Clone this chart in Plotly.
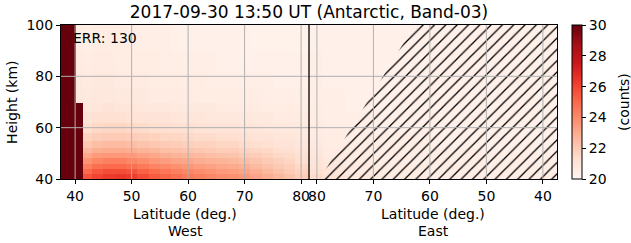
import plotly.graph_objects as go

# ---------------- data ----------------
title_text = "2017-09-30 13:50 UT (Antarctic, Band-03)"
err_text = "ERR: 130"
pole_lat = 81.4          # latitude where West and East halves meet
lat_min = 37.5

height_edges = [40, 42, 44, 46, 48, 50, 52, 55, 58, 62, 66, 69.5, 75, 82, 90, 100]

west_lat_edges = [37.5, 40.2, 41.4, 43, 45, 47, 49, 51, 53, 55, 57, 59, 61, 63,
                  65, 67, 69, 71, 73, 75, 77, 79, 81.4]
east_lat_edges = [81.4, 79, 75, 70, 60, 50, 37.5]

# counts, rows bottom (40 km) -> top (100 km), west columns 37.5 -> 81.4
west_counts = [
    [35, 35, 25.6, 26.0, 26.3, 26.4, 26.2, 25.8, 25.4, 25.1, 24.8, 24.5, 24.3, 24.1, 23.9, 23.8, 23.6, 23.2, 22.9, 22.6, 22.3, 21.9],
    [35, 35, 25.0, 25.5, 25.8, 25.8, 25.6, 25.2, 24.9, 24.6, 24.3, 24.1, 23.9, 23.7, 23.5, 23.4, 23.2, 22.9, 22.6, 22.3, 22.0, 21.7],
    [35, 35, 24.3, 24.8, 25.0, 25.0, 24.8, 24.5, 24.2, 24.0, 23.8, 23.6, 23.4, 23.3, 23.1, 23.0, 22.8, 22.5, 22.3, 22.0, 21.8, 21.5],
    [35, 35, 23.7, 24.1, 24.3, 24.3, 24.1, 23.9, 23.6, 23.4, 23.2, 23.1, 22.9, 22.8, 22.7, 22.6, 22.4, 22.2, 22.0, 21.8, 21.6, 21.3],
    [35, 35, 23.1, 23.5, 23.6, 23.6, 23.5, 23.3, 23.1, 22.9, 22.7, 22.6, 22.5, 22.4, 22.3, 22.2, 22.0, 21.9, 21.7, 21.5, 21.4, 21.2],
    [35, 35, 22.6, 22.9, 23.0, 23.0, 22.9, 22.7, 22.6, 22.4, 22.3, 22.2, 22.1, 22.0, 21.9, 21.9, 21.7, 21.6, 21.5, 21.3, 21.2, 21.1],
    [35, 35, 22.1, 22.4, 22.5, 22.5, 22.4, 22.2, 22.1, 22.0, 21.9, 21.8, 21.7, 21.7, 21.6, 21.6, 21.4, 21.3, 21.2, 21.1, 21.0, 20.9],
    [35, 35, 21.7, 21.9, 22.0, 22.0, 21.9, 21.8, 21.7, 21.6, 21.6, 21.5, 21.4, 21.4, 21.3, 21.3, 21.2, 21.1, 21.0, 20.9, 20.9, 20.8],
    [35, 35, 21.3, 21.5, 21.6, 21.6, 21.5, 21.4, 21.3, 21.3, 21.2, 21.2, 21.1, 21.1, 21.0, 21.0, 20.9, 20.9, 20.8, 20.8, 20.7, 20.7],
    [35, 35, 21.0, 21.2, 21.2, 21.2, 21.1, 21.1, 21.0, 21.0, 20.9, 20.9, 20.9, 20.8, 20.8, 20.8, 20.7, 20.7, 20.7, 20.6, 20.6, 20.6],
    [35, 35, 20.8, 20.9, 21.0, 20.9, 20.9, 20.8, 20.8, 20.8, 20.7, 20.7, 20.7, 20.7, 20.6, 20.6, 20.6, 20.6, 20.5, 20.5, 20.5, 20.5],
    [35, 20.8, 20.7, 20.8, 20.8, 20.7, 20.7, 20.7, 20.6, 20.6, 20.6, 20.6, 20.5, 20.5, 20.5, 20.5, 20.5, 20.5, 20.4, 20.4, 20.4, 20.4],
    [35, 20.7, 20.6, 20.7, 20.7, 20.6, 20.6, 20.6, 20.5, 20.5, 20.5, 20.5, 20.5, 20.4, 20.4, 20.4, 20.4, 20.4, 20.4, 20.3, 20.3, 20.3],
    [35, 20.6, 20.5, 20.6, 20.6, 20.5, 20.5, 20.5, 20.5, 20.4, 20.4, 20.4, 20.4, 20.4, 20.3, 20.3, 20.3, 20.3, 20.3, 20.3, 20.3, 20.3],
    [35, 20.5, 20.4, 20.5, 20.5, 20.5, 20.4, 20.4, 20.4, 20.4, 20.3, 20.3, 20.3, 20.3, 20.3, 20.3, 20.3, 20.2, 20.2, 20.2, 20.2, 20.2],
]

# east columns 81.4 -> 37.5
east_counts = [
    [21.4, 21.0, 20.7, 20.5, 20.4, 20.4],
    [21.2, 20.9, 20.6, 20.5, 20.4, 20.4],
    [21.1, 20.8, 20.6, 20.5, 20.4, 20.4],
    [21.0, 20.7, 20.5, 20.4, 20.4, 20.4],
    [20.9, 20.6, 20.5, 20.4, 20.4, 20.4],
    [20.8, 20.6, 20.5, 20.4, 20.4, 20.3],
    [20.7, 20.5, 20.4, 20.4, 20.3, 20.3],
    [20.6, 20.5, 20.4, 20.4, 20.3, 20.3],
    [20.6, 20.4, 20.4, 20.3, 20.3, 20.3],
    [20.5, 20.4, 20.4, 20.3, 20.3, 20.3],
    [20.5, 20.4, 20.3, 20.3, 20.3, 20.3],
    [20.4, 20.4, 20.3, 20.3, 20.3, 20.3],
    [20.4, 20.3, 20.3, 20.3, 20.3, 20.3],
    [20.4, 20.3, 20.3, 20.3, 20.3, 20.3],
    [20.3, 20.3, 20.3, 20.3, 20.3, 20.3],
]

# no-data boundary on the East side (east latitude at bottom and top heights)
nodata_lat_bottom = 79.5
nodata_lat_top = 62.7

west_ticks = [40, 50, 60, 70, 80]
east_ticks = [80, 70, 60, 50, 40]
height_ticks = [40, 60, 80, 100]

zmin, zmax = 20, 30
cbar_ticks = [20, 22, 24, 26, 28, 30]

reds = [(255, 245, 240), (254, 224, 210), (252, 187, 161), (252, 146, 114),
        (251, 106, 74), (239, 59, 44), (203, 24, 29), (165, 15, 21), (103, 0, 13)]

# ---------------- build ----------------
def east_x(lat):
    return 2 * pole_lat - lat

x_edges = west_lat_edges + [east_x(e) for e in east_lat_edges[1:]]
z = [w + e for w, e in zip(west_counts, east_counts)]
colorscale = [[i / (len(reds) - 1), "rgb(%d,%d,%d)" % c] for i, c in enumerate(reds)]

x_lo, x_hi = lat_min, east_x(lat_min)
y_lo, y_hi = height_edges[0], height_edges[-1]
x_tickvals = west_ticks + [east_x(t) for t in east_ticks]

FONT = "DejaVu Sans"
fig = go.Figure()
fig.add_trace(go.Heatmap(
    x=x_edges, y=height_edges, z=z, zmin=zmin, zmax=zmax,
    colorscale=colorscale, zsmooth=False, hoverinfo="skip",
    colorbar=dict(
        thickness=10, thicknessmode="pixels", len=1, lenmode="fraction",
        x=1.03, xanchor="left", xpad=0, y=0.5, yanchor="middle", ypad=0,
        outlinecolor="black", outlinewidth=1,
        tickvals=cbar_ticks, ticks="outside", ticklen=4, tickcolor="black",
        tickfont=dict(family=FONT, size=14, color="black"),
    ),
))

# hatched no-data region
fig.add_trace(go.Scatter(
    x=[east_x(nodata_lat_bottom), east_x(nodata_lat_top), x_hi, x_hi, east_x(nodata_lat_bottom)],
    y=[y_lo, y_hi, y_hi, y_lo, y_lo],
    mode="lines", line=dict(width=0), fill="toself",
    fillcolor="rgba(0,0,0,0)",
    fillpattern=dict(shape="/", fgcolor="black", fgopacity=1, bgcolor="rgba(0,0,0,0)",
                     size=8, solidity=0.16, fillmode="replace"),
    hoverinfo="skip", showlegend=False,
))

tick_font = dict(family=FONT, size=14, color="black")
fig.update_layout(
    width=631, height=243,
    margin=dict(l=61, r=74, t=25, b=64),
    paper_bgcolor="white", plot_bgcolor="white",
    showlegend=False,
    title=dict(text=title_text, x=0.5, xref="paper", xanchor="center",
               y=0.95, yref="container", yanchor="middle",
               font=dict(family=FONT, size=17, color="black")),
    xaxis=dict(range=[x_lo, x_hi], tickvals=x_tickvals,
               ticktext=[str(t) for t in west_ticks] + [str(t) for t in east_ticks],
               tickangle=0,
               tickfont=tick_font, ticks="outside", ticklen=4, tickcolor="black",
               showgrid=False,
               showline=True, linecolor="black", linewidth=1, mirror=True,
               zeroline=False, layer="above traces"),
    yaxis=dict(range=[y_lo, y_hi], tickvals=height_ticks, tickangle=0,
               tickfont=tick_font, ticks="outside", ticklen=4, tickcolor="black",
               showgrid=False,
               showline=True, linecolor="black", linewidth=1, mirror=True,
               zeroline=False, layer="above traces"),
)

# grid lines drawn above the image (as in the reference)
for xv in x_tickvals:
    fig.add_shape(type="line", xref="x", yref="y", x0=xv, x1=xv, y0=y_lo, y1=y_hi,
                  line=dict(color="#b0b0b0", width=1), layer="above")
for yv in height_ticks[1:-1]:
    fig.add_shape(type="line", xref="x", yref="y", x0=x_lo, x1=x_hi, y0=yv, y1=yv,
                  line=dict(color="#b0b0b0", width=1), layer="above")

fig.add_shape(type="line", xref="x", yref="y", x0=pole_lat, x1=pole_lat,
              y0=y_lo, y1=y_hi, line=dict(color="black", width=1.3), layer="above")

mid_west = (x_lo + pole_lat) / 2
mid_east = (pole_lat + x_hi) / 2
lab_font = dict(family=FONT, size=14, color="black")
for xm, side in [(mid_west, "West"), (mid_east, "East")]:
    fig.add_annotation(x=xm, xref="x", y=-0.225, yref="paper", text="Latitude (deg.)",
                       showarrow=False, font=lab_font, xanchor="center", yanchor="middle")
    fig.add_annotation(x=xm, xref="x", y=-0.335, yref="paper", text=side,
                       showarrow=False, font=lab_font, xanchor="center", yanchor="middle")

fig.add_annotation(x=-0.099, xref="paper", y=0.5, yref="paper", text="Height (km)",
                   textangle=-90, showarrow=False, font=lab_font,
                   xanchor="center", yanchor="middle")
fig.add_annotation(x=1.135, xref="paper", y=0.5, yref="paper", text="(counts)",
                   textangle=-90, showarrow=False, font=lab_font,
                   xanchor="center", yanchor="middle")
fig.add_annotation(x=0.02, xref="paper", y=0.916, yref="paper", text=err_text,
                   showarrow=False, font=lab_font, xanchor="left", yanchor="middle")

fig.write_html("out.html")
